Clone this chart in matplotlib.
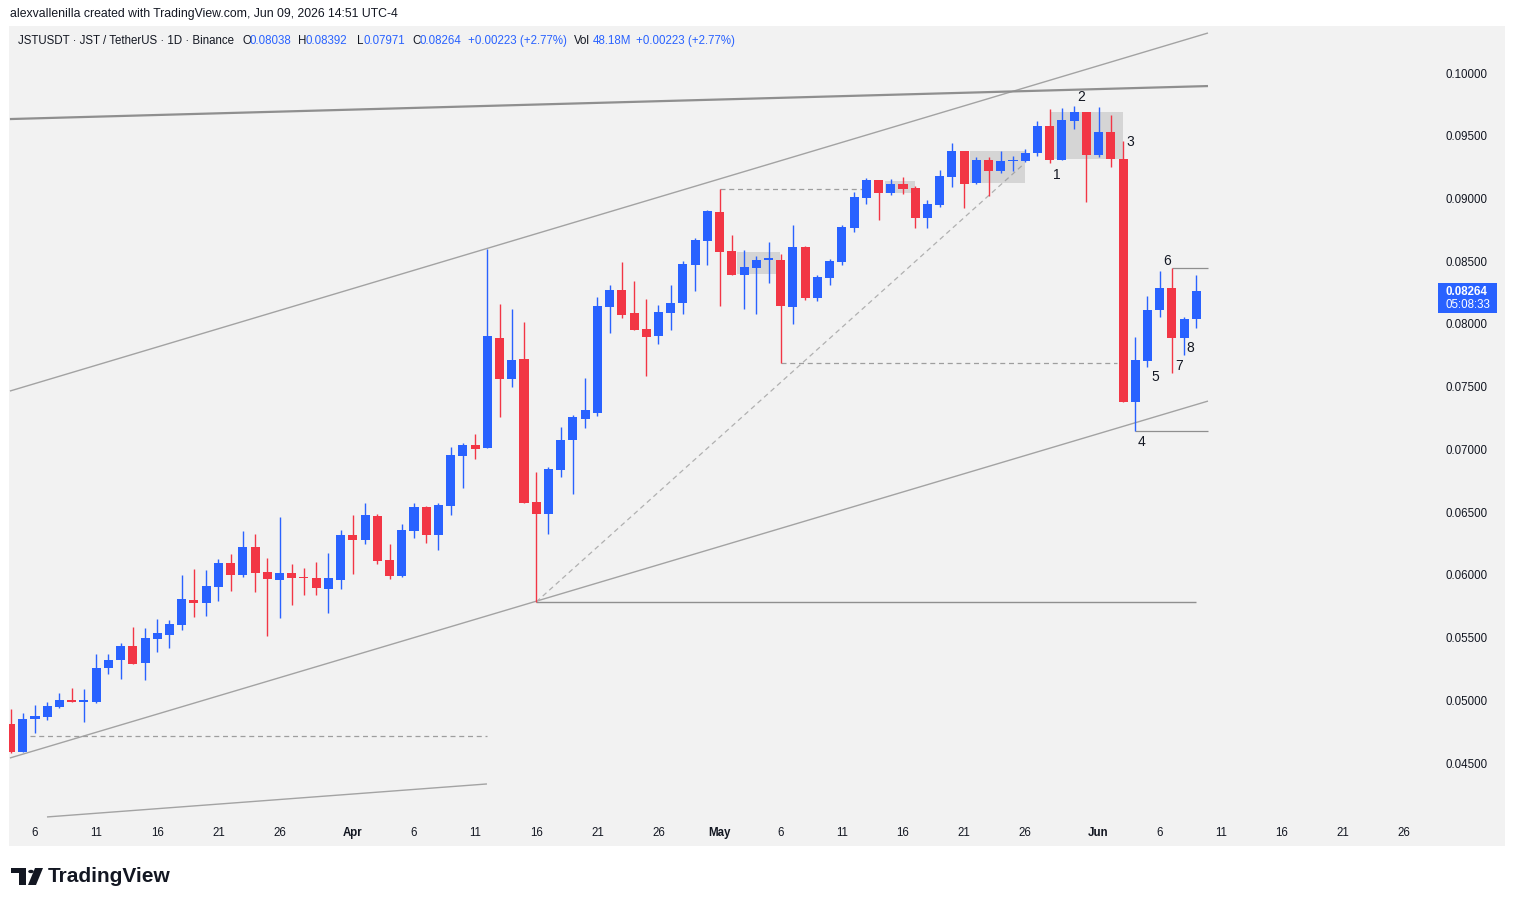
import numpy as np
import pandas as pd
import matplotlib
matplotlib.use('Agg')
import matplotlib.pyplot as plt
from matplotlib.patches import Rectangle, Polygon, Circle

plt.rcParams['font.family'] = ['Liberation Sans', 'DejaVu Sans']

# ---- data (JSTUSDT daily) ----
base = pd.Timestamp('2026-03-01')
dates = pd.date_range('2026-03-04', '2026-06-09', freq='D')

opens = [
    # Mar 4 - Mar 31
    0.04811, 0.04590, 0.04851, 0.04869, 0.04949, 0.05002, 0.04990, 0.04986, 0.05260, 0.05321,
    0.05435, 0.05300, 0.05491, 0.05523, 0.05600, 0.05799, 0.05778, 0.05905, 0.06094, 0.05999,
    0.06224, 0.06022, 0.05959, 0.06015, 0.05975, 0.05977, 0.05887, 0.05959,
    # Apr
    0.06317, 0.06278, 0.06469, 0.06118, 0.05991, 0.06352, 0.06538, 0.06320, 0.06551, 0.06950,
    0.07035, 0.07008, 0.07888, 0.07563, 0.07720, 0.06580, 0.06482, 0.06836, 0.07075, 0.07244,
    0.07292, 0.08137, 0.08270, 0.08089, 0.07959, 0.07904, 0.08089, 0.08169, 0.08470, 0.08661,
    # May
    0.08894, 0.08581, 0.08390, 0.08448, 0.08513, 0.08509, 0.08137, 0.08615, 0.08209, 0.08364,
    0.08494, 0.08767, 0.09006, 0.09147, 0.09041, 0.09115, 0.09081, 0.08847, 0.08948, 0.09173,
    0.09378, 0.09121, 0.09307, 0.09221, 0.09299, 0.09301, 0.09360, 0.09578, 0.09307, 0.09620,
    0.09692,
    # Jun 1 - 9
    0.09346, 0.09532, 0.09315, 0.07380, 0.07707, 0.08111, 0.08289, 0.07890, 0.08038,
]
highs = [
    0.04928, 0.04896, 0.04962, 0.04989, 0.05060, 0.05098, 0.05090, 0.05369, 0.05369, 0.05459,
    0.05586, 0.05578, 0.05650, 0.05640, 0.05999, 0.06046, 0.06038, 0.06124, 0.06166, 0.06352,
    0.06325, 0.06137, 0.06461, 0.06086, 0.06057, 0.06105, 0.06176, 0.06357,
    0.06477, 0.06575, 0.06485, 0.06246, 0.06405, 0.06575, 0.06549, 0.06575, 0.07021, 0.07053,
    0.07122, 0.08597, 0.08159, 0.08119, 0.08013, 0.06820, 0.06862, 0.07181, 0.07276, 0.07567,
    0.08217, 0.08310, 0.08496, 0.08344, 0.08199, 0.08151, 0.08310, 0.08502, 0.08687, 0.08908,
    0.09073, 0.08709, 0.08589, 0.08541, 0.08653, 0.08555, 0.08788, 0.08621, 0.08390, 0.08515,
    0.08788, 0.09054, 0.09166, 0.09147, 0.09153, 0.09169, 0.09099, 0.08988, 0.09227, 0.09444,
    0.09380, 0.09328, 0.09333, 0.09381, 0.09338, 0.09394, 0.09617, 0.09711, 0.09719, 0.09737,
    0.09692,
    0.09731, 0.09665, 0.09458, 0.07898, 0.08222, 0.08422, 0.08443, 0.08053, 0.08392,
]
lows = [
    0.04580, 0.04588, 0.04742, 0.04843, 0.04941, 0.04989, 0.04829, 0.04981, 0.05209, 0.05170,
    0.05292, 0.05162, 0.05387, 0.05419, 0.05560, 0.05666, 0.05674, 0.05794, 0.05873, 0.05985,
    0.05866, 0.05515, 0.05658, 0.05759, 0.05839, 0.05839, 0.05698, 0.05887,
    0.06007, 0.06246, 0.06086, 0.05967, 0.05985, 0.06296, 0.06256, 0.06198, 0.06477, 0.06694,
    0.06921, 0.07008, 0.07260, 0.07500, 0.06570, 0.05786, 0.06323, 0.06782, 0.06642, 0.07173,
    0.07268, 0.07930, 0.08050, 0.07952, 0.07587, 0.07840, 0.07952, 0.08079, 0.08265, 0.08470,
    0.08145, 0.08390, 0.08119, 0.08079, 0.08328, 0.07686, 0.07999, 0.08191, 0.08183, 0.08310,
    0.08470, 0.08735, 0.08956, 0.08828, 0.09028, 0.09036, 0.08762, 0.08764, 0.08932, 0.09094,
    0.08926, 0.09115, 0.09022, 0.09200, 0.09221, 0.09293, 0.09338, 0.09285, 0.09307, 0.09551,
    0.08974,
    0.09328, 0.09253, 0.07380, 0.07146, 0.07654, 0.08058, 0.07606, 0.07752, 0.07971,
]
closes = [
    0.04590, 0.04851, 0.04875, 0.04954, 0.05002, 0.04989, 0.04998, 0.05260, 0.05321, 0.05435,
    0.05292, 0.05499, 0.05539, 0.05608, 0.05807, 0.05778, 0.05911, 0.06094, 0.06001, 0.06222,
    0.06017, 0.05969, 0.06015, 0.05977, 0.05971, 0.05897, 0.05977, 0.06317,
    0.06278, 0.06477, 0.06110, 0.05991, 0.06357, 0.06538, 0.06320, 0.06557, 0.06955, 0.07035,
    0.07000, 0.07906, 0.07563, 0.07712, 0.06575, 0.06482, 0.06846, 0.07075, 0.07260, 0.07314,
    0.08145, 0.08270, 0.08071, 0.07952, 0.07898, 0.08095, 0.08169, 0.08480, 0.08669, 0.08900,
    0.08576, 0.08390, 0.08456, 0.08509, 0.08517, 0.08145, 0.08615, 0.08204, 0.08371, 0.08504,
    0.08775, 0.09014, 0.09147, 0.09046, 0.09115, 0.09075, 0.08847, 0.08956, 0.09179, 0.09378,
    0.09115, 0.09307, 0.09221, 0.09299, 0.09307, 0.09360, 0.09578, 0.09307, 0.09625, 0.09692,
    0.09346,
    0.09532, 0.09312, 0.07380, 0.07712, 0.08111, 0.08289, 0.07890, 0.08039, 0.08264,
]

tick_dates = ['2026-03-06', '2026-03-11', '2026-03-16', '2026-03-21', '2026-03-26',
              '2026-04-01', '2026-04-06', '2026-04-11', '2026-04-16', '2026-04-21', '2026-04-26',
              '2026-05-01', '2026-05-06', '2026-05-11', '2026-05-16', '2026-05-21', '2026-05-26',
              '2026-06-01', '2026-06-06', '2026-06-11', '2026-06-16', '2026-06-21', '2026-06-26']
tick_labels = ['6', '11', '16', '21', '26', 'Apr', '6', '11', '16', '21', '26',
               'May', '6', '11', '16', '21', '26', 'Jun', '6', '11', '16', '21', '26']
price_ticks = [0.045, 0.050, 0.055, 0.060, 0.065, 0.070, 0.075, 0.080, 0.085, 0.090, 0.095, 0.100]

# drawings on the chart: (day since Mar 1, price)
trend_lines = [  # (x0, y0, x1, y1, color, lw, dashed)
    (2.95, 0.07465, 100.95, 0.10319, '#a3a3a3', 1.0, False),   # upper channel
    (2.95, 0.04540, 100.95, 0.07385, '#a3a3a3', 1.0, False),   # lower channel
    (2.95, 0.09633, 100.95, 0.09896, '#8f8f8f', 1.6, False),   # resistance
    (5.98, 0.04070, 41.97, 0.04333, '#a3a3a3', 1.0, False),
    (4.59, 0.04715, 41.97, 0.04715, '#9e9e9e', 0.9, True),
    (46.0, 0.05784, 100.0, 0.05784, '#8f8f8f', 1.0, False),
    (46.0, 0.05784, 85.82, 0.09269, '#b0b0b0', 0.9, True),
    (61.0, 0.09073, 72.65, 0.09073, '#9e9e9e', 0.9, True),
    (66.0, 0.07686, 93.5, 0.07686, '#9e9e9e', 0.9, True),
    (98.0, 0.08443, 100.95, 0.08443, '#8f8f8f', 0.9, False),
    (95.0, 0.07146, 100.95, 0.07146, '#8f8f8f', 0.9, False),
]
zones = [  # (x0, x1, low, high)
    (62.42, 65.94, 0.08398, 0.08576),
    (74.53, 76.98, 0.09041, 0.09141),
    (81.48, 85.98, 0.09121, 0.09378),
    (88.03, 94.02, 0.09315, 0.09687),
]
wave_labels = [('1', 88.60, 0.09187), ('2', 90.56, 0.09809), ('3', 94.57, 0.09450),
               ('4', 95.55, 0.07059), ('5', 96.62, 0.07577), ('6', 97.60, 0.08502),
               ('7', 98.58, 0.07665), ('8', 99.48, 0.07808)]

UP, DOWN = '#2962ff', '#f23645'
BG = '#f2f2f2'
TXT = '#131722'

W, H = 1515, 906
fx = lambda x: x / W
fy = lambda y: 1 - y / H

fig = plt.figure(figsize=(W / 100, H / 100), dpi=100, facecolor='white')

# chart panel
fig.add_artist(Rectangle((fx(9), fy(846)), (1505 - 9) / W, (846 - 26) / H,
                         transform=fig.transFigure, facecolor=BG, edgecolor='none', zorder=0))

ax = fig.add_axes([fx(9), fy(820), (1430 - 9) / W, (820 - 26) / H])
ax.set_facecolor(BG)
for s in ax.spines.values():
    s.set_visible(False)

x = np.array((dates - base).days, dtype=float)
o = np.array(opens); h = np.array(highs); l = np.array(lows); c = np.array(closes)
up = c >= o
cols = np.where(up, UP, DOWN)

for x0, y0, x1, y1, col, lw, dashed in trend_lines:
    ax.plot([x0, x1], [y0, y1], color=col, lw=lw,
            ls=(0, (4, 3)) if dashed else '-', zorder=1, solid_capstyle='butt')
for x0, x1, lo, hi in zones:
    ax.add_patch(Rectangle((x0, lo), x1 - x0, hi - lo, facecolor='#8a8a8a',
                           alpha=0.28, edgecolor='none', zorder=2))

ax.vlines(x, l, h, colors=cols, lw=1.0, zorder=3)
body_lo = np.minimum(o, c)
body_h = np.maximum(np.abs(c - o), 0.00009)
ax.bar(x, body_h, bottom=body_lo, width=0.74, color=cols, linewidth=0, zorder=4)

for s, xx, yy in wave_labels:
    ax.text(xx, yy, s, fontsize=10, ha='center', va='center', color=TXT, zorder=5)

ax.set_xlim(2.873, 119.11)
ax.set_ylim(0.040457, 0.103747)

tick_x = [(pd.Timestamp(d) - base).days for d in tick_dates]
ax.set_xticks(tick_x)
ax.set_xticklabels(tick_labels)
for lab, t in zip(ax.get_xticklabels(), tick_labels):
    if not t.isdigit():
        lab.set_fontweight('bold')
ax.yaxis.tick_right()
ax.set_yticks(price_ticks)
ax.set_yticklabels([f'{p:.5f}' for p in price_ticks])
ax.tick_params(axis='both', length=0, labelsize=8.3, colors=TXT)
ax.tick_params(axis='x', pad=5)
ax.tick_params(axis='y', pad=11)

# last price tag, anchored at the last close
y_close = H - ax.transData.transform((0, c[-1]))[1]   # pixel row from top
fig.add_artist(Rectangle((fx(1438), fy(y_close + 22)), 59 / W, 30 / H, transform=fig.transFigure,
                         facecolor=UP, edgecolor='none', zorder=6))
fig.text(fx(1446), fy(y_close + 1), f'{c[-1]:.5f}', fontsize=8.3, fontweight='bold',
         color='white', ha='left', va='center', zorder=7)
fig.text(fx(1446), fy(y_close + 14), '05:08:33', fontsize=8.3, color='white',
         ha='left', va='center', zorder=7)

# header texts
fig.text(fx(10), fy(14), 'alexvallenilla created with TradingView.com, Jun 09, 2026 14:51 UTC-4',
         fontsize=8.8, color=TXT, ha='left', va='center')
legend_parts = [
    (18, 'JSTUSDT · JST / TetherUS · 1D · Binance', TXT),
    (242, 'O', TXT), (249, '0.08038', UP),
    (298, 'H', TXT), (305, '0.08392', UP),
    (357, 'L', TXT), (363, '0.07971', UP),
    (412, 'C', TXT), (419, '0.08264', UP),
    (468, '+0.00223 (+2.77%)', UP),
    (574, 'Vol', TXT), (593, '48.18M', UP),
    (636, '+0.00223 (+2.77%)', UP),
]
for px, s, col in legend_parts:
    fig.text(fx(px), fy(41), s, fontsize=8.3, color=col, ha='left', va='center')

# TradingView logo
logo = '#131722'
fig.add_artist(Rectangle((fx(11), fy(873)), 15 / W, 5 / H, transform=fig.transFigure,
                         facecolor=logo, edgecolor='none'))
fig.add_artist(Rectangle((fx(19), fy(885)), 7 / W, 17 / H, transform=fig.transFigure,
                         facecolor=logo, edgecolor='none'))
fig.add_artist(Circle((fx(31), fy(871.5)), 2.8 / W, transform=fig.transFigure,
                      facecolor=logo, edgecolor='none'))
fig.add_artist(Polygon([(fx(35), fy(868)), (fx(43), fy(868)), (fx(36), fy(885)), (fx(28), fy(885))],
                       closed=True, transform=fig.transFigure, facecolor=logo, edgecolor='none'))
fig.text(fx(48), fy(876), 'TradingView', fontsize=15, fontweight='bold', color=logo,
         ha='left', va='center')

fig.savefig('out.png', dpi=100, facecolor='white')
